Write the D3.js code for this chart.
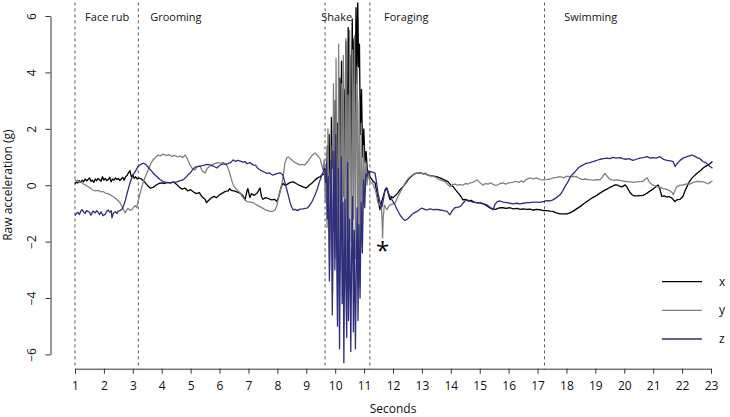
<!DOCTYPE html>
<html><head><meta charset="utf-8">
<script src="https://cdn.jsdelivr.net/npm/d3@7"></script>
<style>
html,body{margin:0;padding:0;background:#fff;}
svg{display:block;font-family:"Open Sans",sans-serif;}
</style></head>
<body><svg id="chart" width="730" height="417"></svg>
<script>
// ---- data ----
const seriesNames = ["x", "y", "z"];
const xTicks = [1,2,3,4,5,6,7,8,9,10,11,12,13,14,15,16,17,18,19,20,21,22,23];
const yTicks = [-6,-4,-2,0,2,4,6];
const behaviours = ["Face rub","Grooming","Shake","Foraging","Swimming"];
const boundaries = [1.0, 3.19, 9.65, 11.2, 17.24];
const labelAt = [1.35, 3.6, 9.52, 11.69, 17.92];
const markerAt = [11.64, -1.95];

const xData = [
[1.00,0.05],[1.05,0.12],[1.10,0.08],[1.15,0.16],[1.20,0.10],[1.25,0.18],[1.30,0.12],[1.35,0.22],[1.40,0.15],[1.45,0.20],[1.50,0.26],[1.55,0.14],[1.60,0.18],[1.65,0.10],[1.70,0.22],[1.75,0.16],[1.80,0.24],[1.85,0.20],[1.90,0.14],[1.95,0.30],[2.00,0.18],[2.05,0.24],[2.10,0.16],[2.15,0.20],[2.20,0.28],[2.25,0.12],[2.30,0.22],[2.35,0.18],[2.40,0.26],[2.45,0.20],[2.50,0.24],[2.55,0.16],[2.60,0.22],[2.65,0.28],[2.70,0.18],[2.75,0.30],[2.80,0.34],[2.85,0.44],[2.90,0.52],[2.95,0.30],[3.00,0.36],[3.05,0.24],[3.10,0.30],[3.15,0.22],[3.20,0.26],
[3.30,0.22],[3.40,0.12],[3.50,0.00],[3.60,-0.10],[3.70,-0.08],[3.80,0.00],[3.90,0.06],[4.00,0.08],[4.10,0.06],[4.20,0.10],[4.30,0.08],[4.40,0.12],[4.50,0.04],[4.60,-0.06],[4.70,-0.14],[4.80,-0.10],[4.90,-0.20],[5.00,-0.16],[5.10,-0.24],[5.20,-0.30],[5.30,-0.26],[5.40,-0.42],[5.50,-0.50],[5.55,-0.62],[5.60,-0.56],[5.70,-0.46],[5.80,-0.40],[5.90,-0.44],[6.00,-0.34],[6.10,-0.28],[6.20,-0.22],[6.30,-0.20],[6.35,-0.12],[6.40,-0.18],[6.50,-0.20],[6.60,-0.24],[6.70,-0.28],[6.80,-0.36],[6.88,-0.52],[6.95,-0.20],[6.98,-0.12],[7.05,-0.44],[7.10,-0.30],[7.20,-0.36],[7.30,-0.28],[7.40,-0.10],[7.45,-0.40],[7.50,-0.50],[7.60,-0.44],[7.70,-0.48],[7.80,-0.52],[7.90,-0.50],[7.99,-0.58],[8.05,-0.40],[8.12,-0.10],[8.19,0.07],[8.26,0.00],[8.35,0.04],[8.45,0.10],[8.55,0.12],[8.65,0.06],[8.75,0.00],[8.85,-0.04],[9.00,-0.10],[9.10,0.00],[9.20,0.08],[9.30,0.18],[9.40,0.26],[9.47,0.30],[9.55,0.36],[9.62,0.40],
[9.66,0.30],[9.69,-0.30],[9.73,1.40],[9.76,0.20],[9.79,1.80],[9.84,-0.90],[9.87,2.40],[9.90,0.60],[9.93,1.20],[9.96,-1.60],[10.00,3.00],[10.05,-0.60],[10.08,2.20],[10.11,-1.90],[10.16,3.80],[10.19,0.80],[10.22,4.40],[10.27,-0.40],[10.30,3.40],[10.33,1.00],[10.37,5.10],[10.41,-1.00],[10.45,5.60],[10.48,2.40],[10.51,4.60],[10.55,0.60],[10.59,5.90],[10.62,2.80],[10.65,5.20],[10.68,1.50],[10.72,6.30],[10.75,3.60],[10.78,6.60],[10.81,4.20],[10.84,5.00],[10.87,1.80],[10.91,3.40],[10.95,1.00],[10.99,2.00],[11.03,0.80],[11.07,1.20],[11.12,0.40],[11.17,0.50],
[11.20,0.30],[11.30,0.15],[11.38,0.08],[11.45,-0.30],[11.55,-0.87],[11.60,-0.60],[11.65,-0.45],[11.72,-0.20],[11.79,-0.10],[11.85,-0.35],[11.90,-0.52],[11.95,-0.40],[12.00,-0.45],[12.10,-0.35],[12.17,-0.27],[12.25,-0.15],[12.35,-0.05],[12.45,0.08],[12.52,0.19],[12.60,0.28],[12.69,0.36],[12.78,0.42],[12.86,0.43],[12.95,0.44],[13.05,0.40],[13.11,0.42],[13.20,0.36],[13.35,0.33],[13.50,0.30],[13.63,0.26],[13.75,0.20],[13.90,0.13],[14.00,0.00],[14.08,-0.05],[14.15,-0.15],[14.25,-0.27],[14.35,-0.40],[14.42,-0.52],[14.50,-0.50],[14.60,-0.56],[14.70,-0.54],[14.80,-0.60],[14.91,-0.63],[15.00,-0.62],[15.11,-0.66],[15.20,-0.70],[15.25,-0.74],[15.36,-0.81],[15.45,-0.84],[15.55,-0.86],[15.62,-0.82],[15.70,-0.80],[15.81,-0.80],[15.90,-0.82],[16.05,-0.80],[16.15,-0.84],[16.30,-0.82],[16.40,-0.86],[16.50,-0.84],[16.64,-0.86],[16.74,-0.85],[16.85,-0.88],[16.98,-0.86],[17.08,-0.87],[17.20,-0.90],[17.33,-0.90],[17.43,-0.92],[17.53,-0.93],[17.65,-0.98],[17.78,-1.02],[17.90,-1.02],[18.02,-1.02],[18.12,-0.98],[18.23,-0.92],[18.35,-0.84],[18.47,-0.76],[18.60,-0.66],[18.71,-0.58],[18.82,-0.50],[18.92,-0.43],[19.05,-0.36],[19.16,-0.28],[19.28,-0.20],[19.40,-0.14],[19.50,-0.08],[19.58,-0.04],[19.68,0.01],[19.78,0.00],[19.85,-0.04],[19.92,-0.06],[20.03,0.01],[20.09,-0.06],[20.13,-0.14],[20.20,-0.26],[20.27,-0.34],[20.35,-0.38],[20.44,-0.38],[20.54,-0.37],[20.65,-0.36],[20.72,-0.32],[20.79,-0.28],[20.90,-0.20],[20.99,-0.14],[21.08,-0.06],[21.17,0.01],[21.22,-0.10],[21.30,-0.40],[21.38,-0.38],[21.48,-0.42],[21.55,-0.40],[21.65,-0.46],[21.75,-0.58],[21.82,-0.52],[21.93,-0.50],[22.03,-0.40],[22.10,-0.20],[22.17,-0.05],[22.25,0.12],[22.34,0.25],[22.43,0.34],[22.52,0.42],[22.62,0.50],[22.72,0.60],[22.80,0.66],[22.90,0.72],[23.00,0.80],[23.05,0.84]
];

const yData = [
[1.00,0.20],[1.05,0.14],[1.10,0.18],[1.15,0.10],[1.20,0.12],[1.30,0.04],[1.40,-0.02],[1.50,-0.08],[1.55,-0.12],[1.62,-0.17],[1.70,-0.20],[1.80,-0.18],[1.90,-0.24],[1.97,-0.22],[2.05,-0.28],[2.15,-0.30],[2.25,-0.36],[2.31,-0.40],[2.40,-0.46],[2.50,-0.56],[2.56,-0.63],[2.65,-0.80],[2.73,-0.98],[2.78,-0.90],[2.83,-0.82],[2.90,-0.88],[2.97,-0.87],[3.03,-0.78],[3.08,-0.72],[3.13,-0.80],[3.18,-0.60],[3.25,-0.30],[3.35,0.08],[3.45,0.35],[3.53,0.54],[3.62,0.76],[3.70,0.90],[3.80,1.00],[3.87,1.07],[3.95,1.04],[4.05,1.10],[4.15,1.06],[4.25,1.08],[4.35,1.02],[4.45,1.06],[4.55,1.00],[4.63,1.04],[4.72,0.98],[4.81,1.07],[4.88,0.95],[4.98,0.72],[5.05,0.60],[5.15,0.54],[5.22,0.66],[5.32,0.68],[5.40,0.50],[5.50,0.43],[5.58,0.60],[5.67,0.68],[5.78,0.74],[5.91,0.80],[6.02,0.78],[6.12,0.80],[6.20,0.76],[6.26,0.68],[6.33,0.50],[6.40,0.25],[6.47,0.01],[6.55,-0.10],[6.63,-0.20],[6.71,-0.27],[6.80,-0.42],[6.88,-0.52],[6.95,-0.58],[7.05,-0.60],[7.16,-0.62],[7.28,-0.70],[7.40,-0.76],[7.50,-0.82],[7.57,-0.87],[7.66,-0.90],[7.75,-0.93],[7.85,-0.92],[7.92,-0.88],[7.98,-0.74],[8.02,-0.52],[8.10,-0.20],[8.16,0.08],[8.22,0.45],[8.26,0.78],[8.32,0.96],[8.37,1.00],[8.45,0.94],[8.54,0.86],[8.65,0.78],[8.78,0.72],[8.88,0.74],[8.96,0.72],[9.05,0.84],[9.13,0.96],[9.22,1.08],[9.30,1.14],[9.38,1.06],[9.47,0.96],[9.54,0.70],[9.58,0.54],[9.62,0.90],
[9.66,-0.60],[9.69,0.40],[9.72,-1.50],[9.75,2.00],[9.78,-0.40],[9.81,-3.00],[9.85,1.40],[9.88,-1.00],[9.91,-3.80],[9.94,3.60],[9.97,1.00],[10.00,-2.60],[10.03,4.50],[10.06,-1.20],[10.09,-2.20],[10.12,5.00],[10.15,0.80],[10.18,-3.00],[10.21,3.60],[10.25,-2.40],[10.28,4.60],[10.31,0.40],[10.34,-1.80],[10.37,5.20],[10.41,-2.80],[10.44,3.20],[10.47,-3.40],[10.50,5.50],[10.53,1.00],[10.56,-2.00],[10.60,4.80],[10.63,-1.20],[10.67,5.30],[10.70,-2.60],[10.73,2.20],[10.76,4.20],[10.79,-3.20],[10.83,3.00],[10.86,-3.60],[10.90,2.20],[10.94,-1.50],[10.98,1.40],[11.02,-0.30],[11.06,0.80],[11.10,0.00],[11.14,0.50],[11.18,0.20],
[11.20,0.13],[11.30,0.05],[11.40,-0.20],[11.48,-0.63],[11.55,-0.70],[11.60,-0.76],[11.62,-1.20],[11.64,-1.87],[11.66,-1.20],[11.70,-0.70],[11.75,-0.80],[11.79,-0.87],[11.85,-0.75],[11.90,-0.70],[12.00,-0.66],[12.07,-0.63],[12.15,-0.45],[12.24,-0.27],[12.33,-0.10],[12.42,0.08],[12.50,0.20],[12.59,0.30],[12.70,0.38],[12.83,0.43],[12.95,0.44],[13.10,0.40],[13.25,0.34],[13.45,0.30],[13.60,0.20],[13.80,0.13],[13.90,0.02],[13.97,-0.05],[14.05,0.02],[14.15,0.04],[14.21,0.00],[14.30,0.02],[14.42,0.00],[14.50,0.06],[14.60,0.04],[14.66,0.08],[14.75,0.10],[14.83,0.14],[14.91,0.19],[15.00,0.10],[15.11,0.00],[15.20,0.06],[15.30,0.04],[15.36,0.08],[15.45,0.04],[15.52,0.00],[15.60,0.00],[15.70,0.06],[15.81,0.08],[15.90,0.04],[16.00,0.08],[16.05,0.09],[16.15,0.10],[16.25,0.14],[16.35,0.10],[16.45,0.16],[16.50,0.10],[16.60,0.20],[16.74,0.26],[16.85,0.22],[16.98,0.26],[17.08,0.20],[17.19,0.19],[17.30,0.20],[17.43,0.22],[17.55,0.26],[17.66,0.28],[17.78,0.30],[17.90,0.26],[18.02,0.32],[18.12,0.30],[18.24,0.31],[18.36,0.30],[18.45,0.24],[18.54,0.20],[18.65,0.22],[18.81,0.19],[18.95,0.18],[19.05,0.20],[19.16,0.19],[19.25,0.30],[19.33,0.42],[19.42,0.30],[19.51,0.20],[19.62,0.18],[19.75,0.19],[19.88,0.16],[20.00,0.14],[20.09,0.13],[20.20,0.12],[20.30,0.10],[20.40,0.12],[20.54,0.13],[20.65,0.14],[20.72,0.20],[20.79,0.26],[20.85,0.15],[20.89,0.08],[21.00,0.00],[21.13,-0.05],[21.25,-0.08],[21.34,-0.12],[21.45,-0.14],[21.58,-0.20],[21.65,-0.26],[21.69,-0.34],[21.75,-0.20],[21.82,-0.05],[21.93,0.00],[22.03,0.00],[22.15,0.05],[22.27,0.04],[22.38,0.10],[22.52,0.14],[22.62,0.12],[22.72,0.13],[22.82,0.08],[22.90,0.05],[22.97,0.10],[23.05,0.15]
];

const zData = [
[1.00,-1.08],[1.05,-1.00],[1.10,-0.96],[1.15,-1.04],[1.20,-0.92],[1.24,-0.87],[1.30,-0.95],[1.35,-1.00],[1.40,-0.90],[1.50,-0.96],[1.55,-1.06],[1.62,-0.92],[1.70,-0.98],[1.75,-0.90],[1.80,-0.96],[1.85,-1.04],[1.90,-0.94],[1.97,-1.08],[2.05,-1.02],[2.10,-0.92],[2.15,-0.88],[2.20,-0.96],[2.25,-0.90],[2.28,-1.16],[2.33,-0.98],[2.40,-0.94],[2.45,-1.00],[2.50,-0.92],[2.56,-0.90],[2.63,-0.85],[2.68,-0.72],[2.73,-0.58],[2.80,-0.30],[2.90,0.08],[3.00,0.35],[3.08,0.48],[3.18,0.66],[3.25,0.72],[3.35,0.78],[3.45,0.74],[3.55,0.62],[3.65,0.50],[3.75,0.38],[3.84,0.30],[3.94,0.20],[4.04,0.13],[4.15,0.10],[4.29,0.08],[4.40,0.10],[4.53,0.12],[4.63,0.16],[4.74,0.19],[4.82,0.26],[4.90,0.36],[4.98,0.43],[5.07,0.55],[5.15,0.64],[5.25,0.66],[5.32,0.68],[5.45,0.70],[5.55,0.74],[5.67,0.72],[5.78,0.68],[5.91,0.61],[6.00,0.70],[6.12,0.76],[6.20,0.74],[6.33,0.78],[6.40,0.82],[6.47,0.90],[6.55,0.84],[6.62,0.88],[6.70,0.86],[6.80,0.82],[6.88,0.84],[6.95,0.76],[7.05,0.80],[7.16,0.72],[7.25,0.70],[7.32,0.60],[7.40,0.54],[7.48,0.50],[7.56,0.46],[7.64,0.42],[7.72,0.44],[7.80,0.38],[7.85,0.36],[7.95,0.40],[8.02,0.42],[8.09,0.44],[8.15,0.40],[8.19,0.36],[8.26,0.10],[8.33,-0.17],[8.40,-0.45],[8.44,-0.63],[8.50,-0.78],[8.54,-0.87],[8.62,-0.86],[8.70,-0.90],[8.78,-0.85],[8.88,-0.84],[8.96,-0.82],[9.03,-0.81],[9.10,-0.74],[9.20,-0.58],[9.28,-0.40],[9.37,-0.17],[9.45,0.10],[9.54,0.36],[9.60,0.50],[9.62,0.60],
[9.64,0.60],[9.67,0.10],[9.70,0.80],[9.73,-1.20],[9.76,0.30],[9.80,-3.40],[9.83,-0.80],[9.86,0.90],[9.90,-4.60],[9.93,-1.40],[9.96,1.20],[9.99,-3.00],[10.02,1.80],[10.05,-2.20],[10.08,-5.00],[10.11,0.60],[10.15,-5.80],[10.18,-2.00],[10.21,1.00],[10.24,-4.20],[10.27,-0.60],[10.30,-6.30],[10.34,-0.50],[10.37,-3.60],[10.40,-5.40],[10.43,0.80],[10.46,-4.80],[10.50,-1.20],[10.54,-5.90],[10.57,-2.40],[10.60,-0.40],[10.63,-5.20],[10.66,-1.60],[10.70,-5.80],[10.73,-3.00],[10.76,-0.80],[10.79,-4.80],[10.82,-1.40],[10.86,-4.00],[10.90,-0.60],[10.94,-2.40],[10.98,0.20],[11.02,-0.80],[11.06,0.40],[11.10,0.30],[11.14,0.50],[11.18,0.40],
[11.20,0.48],[11.30,0.46],[11.38,0.43],[11.43,0.10],[11.48,-0.28],[11.55,-0.60],[11.62,-0.76],[11.67,-0.50],[11.72,-0.17],[11.76,-0.10],[11.79,-0.14],[11.85,-0.30],[11.90,-0.40],[12.00,-0.58],[12.07,-0.70],[12.15,-0.88],[12.24,-1.05],[12.33,-1.18],[12.42,-1.25],[12.50,-1.20],[12.59,-1.11],[12.70,-1.00],[12.83,-0.93],[12.92,-0.86],[13.00,-0.81],[13.10,-0.86],[13.18,-0.88],[13.28,-0.84],[13.38,-0.87],[13.50,-0.86],[13.63,-0.88],[13.75,-0.90],[13.87,-0.93],[13.97,-1.05],[14.05,-0.90],[14.14,-0.80],[14.25,-0.78],[14.32,-0.76],[14.42,-0.64],[14.50,-0.55],[14.56,-0.52],[14.66,-0.56],[14.77,-0.60],[14.90,-0.62],[15.01,-0.62],[15.12,-0.65],[15.25,-0.70],[15.36,-0.78],[15.46,-0.87],[15.52,-0.70],[15.60,-0.58],[15.70,-0.56],[15.81,-0.60],[15.94,-0.62],[16.05,-0.64],[16.15,-0.66],[16.29,-0.64],[16.39,-0.66],[16.50,-0.64],[16.64,-0.62],[16.74,-0.62],[16.86,-0.60],[16.98,-0.60],[17.08,-0.61],[17.19,-0.58],[17.33,-0.55],[17.43,-0.56],[17.53,-0.52],[17.65,-0.44],[17.78,-0.34],[17.87,-0.20],[17.95,-0.05],[18.04,0.10],[18.12,0.26],[18.20,0.38],[18.30,0.48],[18.38,0.58],[18.47,0.66],[18.58,0.72],[18.71,0.78],[18.81,0.80],[18.92,0.84],[19.05,0.88],[19.16,0.92],[19.28,0.94],[19.40,0.96],[19.50,0.94],[19.61,0.99],[19.72,0.96],[19.85,0.98],[19.95,0.94],[20.05,0.92],[20.15,0.94],[20.30,0.88],[20.42,0.92],[20.54,0.96],[20.65,0.98],[20.79,1.01],[20.90,0.96],[20.99,0.98],[21.10,0.96],[21.24,1.01],[21.35,0.92],[21.48,0.88],[21.60,0.86],[21.69,0.84],[21.76,0.66],[21.82,0.76],[21.93,0.88],[22.03,0.96],[22.17,1.01],[22.34,1.07],[22.45,1.02],[22.52,0.98],[22.62,0.94],[22.72,0.84],[22.82,0.80],[22.90,0.72],[22.97,0.66],[23.05,0.60]
];

// ---- drawing ----
const svg = d3.select("#chart");
const colors = {x:"#000000", y:"#808080", z:"#2e2e7c"};

const x = d3.scaleLinear().domain([1, 23]).range([75, 711]);
const y = d3.scaleLinear().domain([-6, 6]).range([354.4, 16]);
const plotTop = 2.4, plotBottom = 368.7;

svg.append("defs").append("clipPath").attr("id","plotclip")
  .append("rect").attr("x", 49).attr("y", plotTop).attr("width", 680).attr("height", plotBottom - plotTop);

// behaviour boundaries
svg.append("g").selectAll("line").data(boundaries).join("line")
  .attr("x1", d => x(d)).attr("x2", d => x(d))
  .attr("y1", plotTop).attr("y2", plotBottom)
  .attr("stroke", "#555").attr("stroke-width", 1).attr("stroke-dasharray", "3,3");

svg.append("g").selectAll("text").data(behaviours).join("text")
  .attr("x", (d,i) => x(labelAt[i])).attr("y", 21)
  .attr("font-size", 11).attr("fill", "#111").text(d => d);

// lines
const line = d3.line().x(d => x(d[0])).y(d => y(d[1]));
const g = svg.append("g").attr("clip-path", "url(#plotclip)");
[[xData,"x"],[yData,"y"],[zData,"z"]].forEach(([data, name]) => {
  g.append("path").datum(data).attr("d", line)
    .attr("fill", "none").attr("stroke", colors[name])
    .attr("stroke-width", 1.3).attr("stroke-linejoin", "round");
});

// asterisk marker
svg.append("text").attr("x", x(markerAt[0])).attr("y", y(markerAt[1]) + 19)
  .attr("text-anchor", "middle").attr("font-size", 24).attr("fill", "#000").text("*");

// axes
const xAxis = svg.append("g").attr("transform", `translate(0,${plotBottom})`)
  .call(d3.axisBottom(x).tickValues(xTicks).tickFormat(d3.format("d")).tickSize(5).tickSizeOuter(0));
xAxis.selectAll("text").attr("y", 21.3).attr("dy", 0).attr("font-size", 12).attr("fill", "#111");
xAxis.selectAll("line, path").attr("stroke", "#333");
xAxis.attr("font-family", null);

const yAxis = svg.append("g").attr("transform", "translate(50.5,0)")
  .call(d3.axisLeft(y).tickValues(yTicks).tickSize(5).tickSizeOuter(0));
yAxis.selectAll("text").attr("transform", "rotate(-90)")
  .attr("x", 0).attr("y", -15).attr("dy", 0).attr("text-anchor", "middle")
  .attr("font-size", 12).attr("fill", "#111");
yAxis.selectAll("line, path").attr("stroke", "#333");
yAxis.attr("font-family", null);

svg.append("text").attr("transform", `translate(12,${y(0)}) rotate(-90)`)
  .attr("text-anchor", "middle").attr("font-size", 12).attr("fill", "#111")
  .text("Raw acceleration (g)");
svg.append("text").attr("x", (x(1) + x(23)) / 2).attr("y", 413)
  .attr("text-anchor", "middle").attr("font-size", 12).attr("fill", "#111")
  .text("Seconds");

// legend
const legY = [281.7, 310.3, 339];
const leg = svg.append("g");
seriesNames.forEach((n, i) => {
  leg.append("line").attr("x1", 662).attr("x2", 702).attr("y1", legY[i]).attr("y2", legY[i])
    .attr("stroke", colors[n]).attr("stroke-width", 1.3);
  leg.append("text").attr("x", 719).attr("y", legY[i] + 4).attr("font-size", 12)
    .attr("fill", "#111").text(n);
});
</script></body></html>
